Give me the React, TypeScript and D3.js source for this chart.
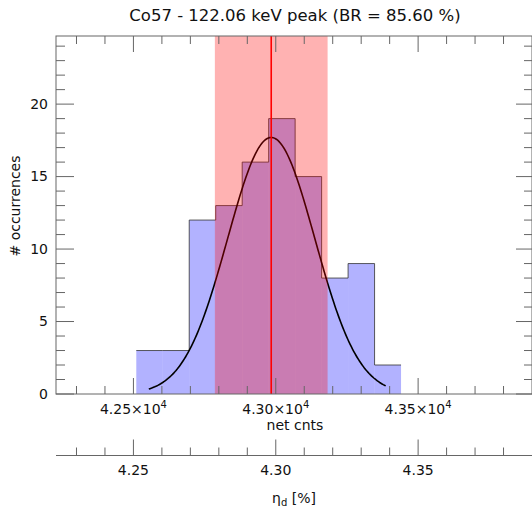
import React from "react";
import * as d3 from "d3";

// histogram of net counts
const binEdges = [42510, 42603, 42696, 42789, 42882, 42975, 43068, 43161, 43254, 43347, 43440];
const counts = [3, 3, 12, 13, 16, 19, 15, 8, 9, 2];

// gaussian fit
const fitAmp = 17.7;
const fitMean = 42984;
const fitSigma = 153;
const fitRange = [42554, 43386];

// selected band (red)
const bandRange = [42786, 43182];

const xMajor = [42500, 43000, 43500];
const xMajorLabels = ["4.25", "4.30", "4.35"];
const yMajor = [0, 5, 10, 15, 20];

const W = 532;
const H = 509;
const L = 56;
const R = 532;
const T = 36;
const B = 394;
const axis2Y = 455.5;
const font = "DejaVu Sans, sans-serif";
const axisColor = "#666";

export default function App() {
  const x = d3.scaleLinear().domain([42228, 43900]).range([L, R]);
  const y = d3.scaleLinear().domain([0, 24.7]).range([B, T]);

  const xMinor = d3.range(42300, 43900, 100);
  const yMinor = d3.range(0, 25, 1);

  const stepPts: [number, number][] = counts.map((c, i) => [binEdges[i], c]);
  stepPts.push([binEdges[binEdges.length - 1], counts[counts.length - 1]]);
  const stepLine = d3
    .line<[number, number]>()
    .x((d) => x(d[0]))
    .y((d) => y(d[1]))
    .curve(d3.curveStepAfter);

  const fitPts = d3.range(fitRange[0], fitRange[1] + 0.1, (fitRange[1] - fitRange[0]) / 200);
  const fitLine = d3
    .line<number>()
    .x((d) => x(d))
    .y((d) => y(fitAmp * Math.exp(-((d - fitMean) ** 2) / (2 * fitSigma * fitSigma))));

  return (
    <svg
      width={W}
      height={H}
      style={{ position: "absolute", left: 0, top: 0, background: "#fff" }}
      fontFamily={font}
    >
      <text x={295} y={21} textAnchor="middle" fontSize={16.5} fill="#111">
        Co57 - 122.06 keV peak (BR = 85.60 %)
      </text>

      {/* bars */}
      {counts.map((c, i) => (
        <rect
          key={i}
          x={x(binEdges[i])}
          width={x(binEdges[i + 1]) - x(binEdges[i])}
          y={y(c)}
          height={y(0) - y(c)}
          fill="#0000ff"
          fillOpacity={0.3}
        />
      ))}
      <path d={stepLine(stepPts) || ""} fill="none" stroke="#333" strokeOpacity={0.8} strokeWidth={1} />

      {/* fit */}
      <path d={fitLine(fitPts) || ""} fill="none" stroke="#000" strokeWidth={1.6} />

      {/* band */}
      <rect
        x={x(bandRange[0])}
        width={x(bandRange[1]) - x(bandRange[0])}
        y={T}
        height={B - T}
        fill="#ff0000"
        fillOpacity={0.3}
      />
      <line x1={x(fitMean)} x2={x(fitMean)} y1={T} y2={B} stroke="#ff0000" strokeWidth={1.6} />

      {/* frame */}
      <rect x={L} y={T} width={R - L} height={B - T} fill="none" stroke={axisColor} strokeWidth={1} />

      {/* x ticks bottom & top */}
      {xMinor.map((v) => {
        const major = xMajor.includes(v);
        const len = major ? 16 : 8;
        return (
          <g key={v} stroke={axisColor} strokeWidth={1}>
            <line x1={x(v)} x2={x(v)} y1={B} y2={B - len} />
            <line x1={x(v)} x2={x(v)} y1={T} y2={T + len} />
            <line x1={x(v)} x2={x(v)} y1={axis2Y} y2={axis2Y - len} />
          </g>
        );
      })}
      {xMajor.map((v, i) => (
        <text key={v} x={x(v)} y={414} textAnchor="middle" fontSize={14} fill="#111">
          {xMajorLabels[i]}×10
          <tspan fontSize={10} dy={-6}>
            4
          </tspan>
        </text>
      ))}
      <text x={295} y={430} textAnchor="middle" fontSize={14} fill="#111">
        net cnts
      </text>

      {/* y ticks */}
      {yMinor.map((v) => {
        const major = yMajor.includes(v);
        return (
          <g key={v} stroke={axisColor} strokeWidth={1}>
            <line x1={L} x2={L + (major ? 18 : 9)} y1={y(v)} y2={y(v)} />
            <line x1={R} x2={R - (major ? 16 : 8)} y1={y(v)} y2={y(v)} />
          </g>
        );
      })}
      {yMajor.map((v) => (
        <text key={v} x={48} y={y(v)} dy="0.35em" textAnchor="end" fontSize={14} fill="#111">
          {v}
        </text>
      ))}
      <text
        transform={`translate(20,206) rotate(-90)`}
        textAnchor="middle"
        fontSize={14}
        fill="#111"
      >
        # occurrences
      </text>

      {/* secondary axis */}
      <line x1={L} x2={R} y1={axis2Y} y2={axis2Y} stroke={axisColor} strokeWidth={1} />
      {xMajor.map((v, i) => (
        <text key={v} x={x(v)} y={474.5} textAnchor="middle" fontSize={14} fill="#111">
          {xMajorLabels[i]}
        </text>
      ))}
      <text x={294} y={503} textAnchor="middle" fontSize={14} fill="#111">
        η
        <tspan fontSize={10} dy={3}>
          d
        </tspan>
        <tspan dy={-3}> [%]</tspan>
      </text>
    </svg>
  );
}
